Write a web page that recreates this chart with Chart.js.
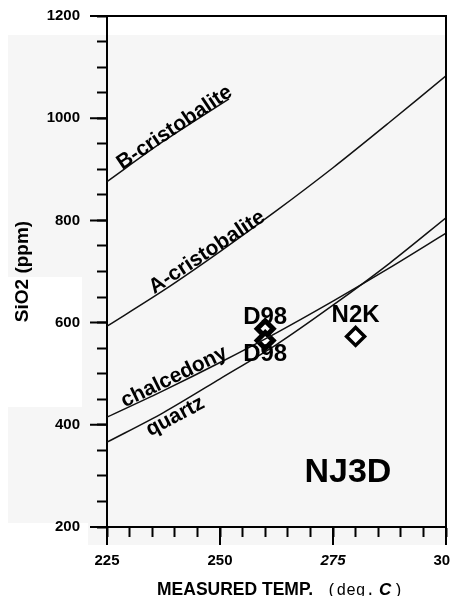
<!DOCTYPE html>
<html>
<head>
<meta charset="utf-8">
<script src="https://cdn.jsdelivr.net/npm/chart.js@4"></script>
<style>
  html, body { margin: 0; padding: 0; background: #fff; }
</style>
</head>
<body>
<canvas id="myChart" width="450" height="596"></canvas>
<script>
// silica solubility curves (ppm SiO2 vs temperature)
const temps = [225, 237.5, 250, 262.5, 275, 287.5, 300];
const quartz = [366, 424, 490, 557, 634, 716, 805];
const chalcedony = [415, 467, 522, 580, 642, 707, 775];
const aCristobalite = [593, 663, 739, 819, 903, 992, 1083];
const bTemps = [225, 237.5, 252];
const bCristobalite = [876, 955, 1038];

// measured samples
const sampleNames = ['D98', 'D98', 'N2K'];
const sampleTemps = [260, 260, 280];
const sampleSiO2 = [588, 565, 573];

const xMajor = [225, 250, 275, 300];
const yMajor = [200, 400, 600, 800, 1000, 1200];

const FONT = '"Liberation Sans", Arial, sans-serif';

const toPoints = (xs, ys) => xs.map((x, i) => ({ x: x, y: ys[i] }));

const curve = (label, xs, ys) => ({
  type: 'line',
  label: label,
  data: toPoints(xs, ys),
  borderColor: '#111',
  borderWidth: 1.5,
  pointRadius: 0,
  tension: 0.3,
  fill: false,
});

// curve names: anchor on the curve (data units), angle in degrees,
// dy = baseline shift in the rotated frame
const curveLabels = [
  { text: 'B-cristobalite', x: 228.5, y: 897, angle: -34, dy: -1 },
  { text: 'A-cristobalite', x: 235.6, y: 654, angle: -33.5, dy: -1 },
  { text: 'chalcedony', x: 229, y: 432, angle: -26, dy: -1 },
  { text: 'quartz', x: 233, y: 403, angle: -28, dy: 15 },
];
// pixel offsets of the sample names from their markers
const nameOffsets = [-5, 21, -14];

// fixed axis box sizes, no extra room for overhanging labels
const fixBox = (w, h) => s => {
  if (w) s.width = w;
  if (h) s.height = h;
  s.paddingLeft = s.paddingRight = s.paddingTop = s.paddingBottom = 0;
};

const decorations = {
  id: 'decorations',
  beforeDraw(chart) {
    const ctx = chart.ctx;
    ctx.save();
    ctx.fillStyle = '#f6f6f6';
    ctx.fillRect(8, 35, 438, 510);
    ctx.fillStyle = '#fff';
    ctx.fillRect(0, 277, 82, 130);
    ctx.fillRect(0, 523, 88, 30);
    ctx.restore();
  },
  afterDraw(chart) {
    const ctx = chart.ctx;
    const xs = chart.scales.x, ys = chart.scales.y;
    const a = chart.chartArea;
    ctx.save();
    ctx.strokeStyle = '#000';
    ctx.lineWidth = 2;
    ctx.beginPath();
    // top border, running out over the 1200 tick
    ctx.moveTo(a.left - 17, a.top);
    ctx.lineTo(a.right + 1, a.top);
    // right border, down past the axis like a major tick
    ctx.moveTo(a.right, a.top);
    ctx.lineTo(a.right, a.bottom + 18);
    xMajor.forEach(v => {
      const px = xs.getPixelForValue(v);
      ctx.moveTo(px, a.bottom);
      ctx.lineTo(px, a.bottom + 18);
    });
    yMajor.forEach(v => {
      const py = ys.getPixelForValue(v);
      ctx.moveTo(a.left - 17, py);
      ctx.lineTo(a.left, py);
    });
    ctx.stroke();

    ctx.fillStyle = '#000';
    ctx.font = 'bold 21px ' + FONT;
    ctx.textAlign = 'left';
    ctx.textBaseline = 'alphabetic';
    curveLabels.forEach(l => {
      ctx.save();
      ctx.translate(xs.getPixelForValue(l.x), ys.getPixelForValue(l.y));
      ctx.rotate(l.angle * Math.PI / 180);
      ctx.fillText(l.text, 0, l.dy);
      ctx.restore();
    });

    ctx.textAlign = 'center';
    ctx.font = 'bold 24px ' + FONT;
    sampleNames.forEach((n, i) => {
      const px = xs.getPixelForValue(sampleTemps[i]);
      const py = ys.getPixelForValue(sampleSiO2[i]);
      ctx.fillText(n, px, py + nameOffsets[i]);
    });

    ctx.font = 'bold 34px ' + FONT;
    ctx.fillText('NJ3D', xs.getPixelForValue(278.3), ys.getPixelForValue(289));

    // x axis title, mixed fonts
    let tx = 157;
    const ty = 595;
    ctx.textAlign = 'left';
    ctx.font = 'bold 17.5px ' + FONT;
    ctx.fillText('MEASURED TEMP.', tx, ty);
    tx = 327;
    ctx.font = '16px "Liberation Mono", monospace';
    ctx.fillText('(deg.', tx, ty);
    tx += ctx.measureText('(deg.').width + 4;
    ctx.font = 'italic bold 17px ' + FONT;
    ctx.fillText('C', tx, ty);
    tx += ctx.measureText('C').width + 2;
    ctx.font = '16px "Liberation Mono", monospace';
    ctx.fillText(')', tx, ty);
    ctx.restore();
  }
};

const config = {
  type: 'scatter',
  data: {
    datasets: [
      curve('B-cristobalite', bTemps, bCristobalite),
      curve('A-cristobalite', temps, aCristobalite),
      curve('chalcedony', temps, chalcedony),
      curve('quartz', temps, quartz),
      {
        label: 'samples',
        data: toPoints(sampleTemps, sampleSiO2),
        pointStyle: 'rectRot',
        pointRadius: [8, 8, 9],
        borderWidth: [5, 5, 3.5],
        borderColor: '#000',
        backgroundColor: '#fff',
      },
    ],
  },
  options: {
    responsive: false,
    animation: false,
    layout: { padding: { left: 0, top: 16, right: 4, bottom: 0 }, autoPadding: false },
    plugins: { legend: { display: false }, tooltip: { enabled: false } },
    scales: {
      x: {
        type: 'linear',
        min: 225,
        max: 300,
        afterFit: fixBox(0, 69),
        grid: { drawOnChartArea: false, tickLength: 10, tickWidth: 2, tickColor: '#000' },
        border: { width: 2, color: '#000' },
        ticks: {
          stepSize: 5,
          autoSkip: false,
          maxRotation: 0,
          padding: 15,
          color: '#000',
          callback: v => (v % 25 === 0 ? v : ''),
          font: c => ({
            family: FONT, size: 15, weight: 'bold',
            style: c.tick && c.tick.value === 275 ? 'italic' : 'normal',
          }),
        },
      },
      y: {
        type: 'linear',
        min: 200,
        max: 1200,
        afterFit: fixBox(107, 0),
        grid: { drawOnChartArea: false, tickLength: 10, tickWidth: 2, tickColor: '#000' },
        border: { width: 2, color: '#000' },
        ticks: {
          stepSize: 50,
          autoSkip: false,
          padding: 17,
          color: '#000',
          callback: v => (v % 200 === 0 ? v : ''),
          font: { family: FONT, size: 15, weight: 'bold' },
        },
        title: {
          display: true,
          text: 'SiO2 (ppm)',
          color: '#000',
          font: { family: FONT, size: 19, weight: 'bold' },
          padding: { top: 11.6, bottom: 0 },
        },
      },
    },
  },
  plugins: [decorations],
};

const myChart = new Chart(document.getElementById('myChart'), config);
</script>
</body>
</html>
